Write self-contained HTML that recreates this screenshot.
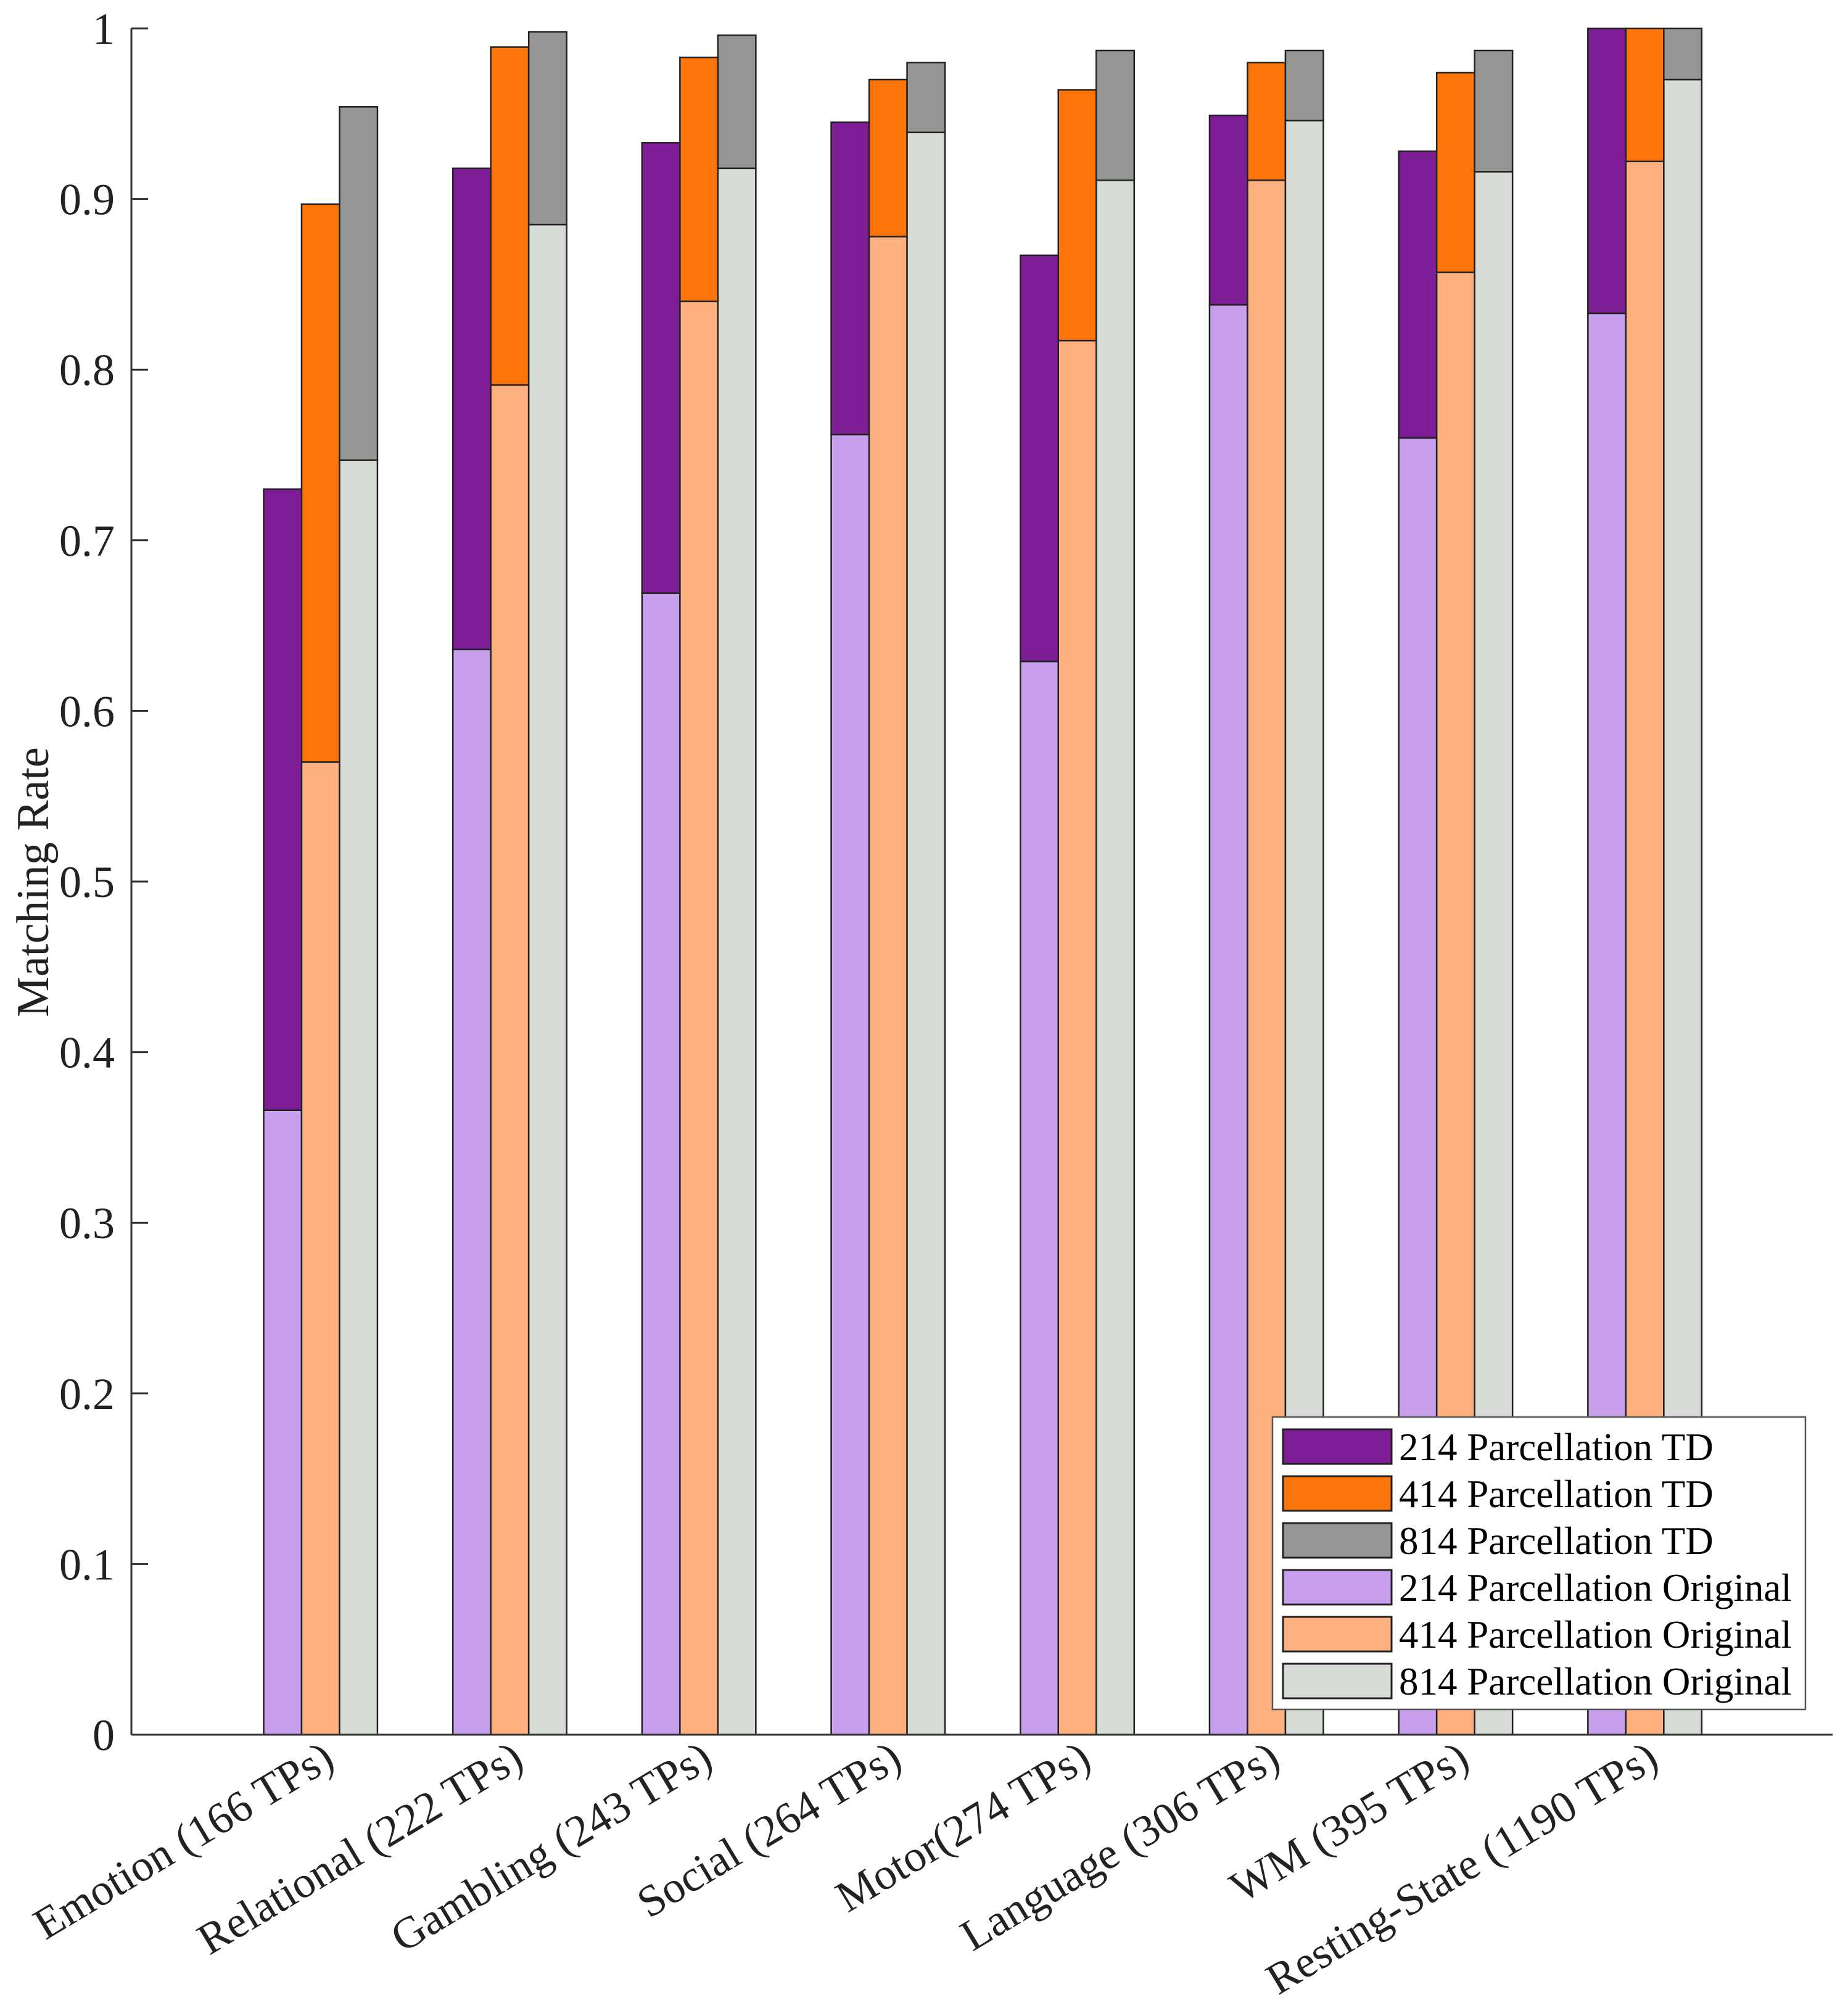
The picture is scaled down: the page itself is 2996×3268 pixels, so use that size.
<!DOCTYPE html>
<html><head><meta charset="utf-8"><style>
html,body{margin:0;padding:0;background:#fff;}
svg{display:block;font-family:"Liberation Serif",serif;}
</style></head><body>
<svg id="chart" width="2996" height="3268" viewBox="0 0 2996 3268" xmlns="http://www.w3.org/2000/svg">
<rect width="2996" height="3268" fill="#fff"/>
<g id="bars"></g>
<g id="axes"></g>
<g id="legend"></g>
</svg>
<script>
const categories = ["Emotion (166 TPs)","Relational (222 TPs)","Gambling (243 TPs)","Social (264 TPs)","Motor(274 TPs)","Language (306 TPs)","WM (395 TPs)","Resting-State (1190 TPs)"];
const orig214 = [0.366,0.636,0.669,0.762,0.629,0.838,0.760,0.833];
const orig414 = [0.570,0.791,0.840,0.878,0.817,0.911,0.857,0.922];
const orig814 = [0.747,0.885,0.918,0.939,0.911,0.946,0.916,0.970];
const td214 = [0.730,0.918,0.933,0.945,0.867,0.949,0.928,1.000];
const td414 = [0.897,0.989,0.983,0.970,0.964,0.980,0.974,1.000];
const td814 = [0.954,0.998,0.996,0.980,0.987,0.987,0.987,1.000];
const yTicks = [0,0.1,0.2,0.3,0.4,0.5,0.6,0.7,0.8,0.9,1];
const yTickLabels = ["0","0.1","0.2","0.3","0.4","0.5","0.6","0.7","0.8","0.9","1"];
const legendLabels = ["214 Parcellation TD","414 Parcellation TD","814 Parcellation TD","214 Parcellation Original","414 Parcellation Original","814 Parcellation Original"];

const NS="http://www.w3.org/2000/svg";
const X0=213, XR=2971, Y0=2812, YH=2766, STEP=306.7, BW=61.5;
const yS=v=>Y0-v*YH;
const xS=i=>X0+(i+1)*STEP;
function mk(tag,attrs,parent){const e=document.createElementNS(NS,tag);for(const k in attrs)e.setAttribute(k,attrs[k]);parent.appendChild(e);return e;}
const bars=document.getElementById('bars'),axes=document.getElementById('axes'),legend=document.getElementById('legend');
const series=[
 {o:orig214,t:td214,co:"#c89fec",ct:"#7f1d97",n:"214"},
 {o:orig414,t:td414,co:"#ffb07f",ct:"#fd7408",n:"414"},
 {o:orig814,t:td814,co:"#d8dcd6",ct:"#959694",n:"814"}];
series.forEach((s,si)=>{
 categories.forEach((c,i)=>{
  const x=xS(i)+(si-1)*BW-BW/2;
  const r1=mk('rect',{x:x,y:yS(s.o[i]),width:BW,height:yS(0)-yS(s.o[i]),fill:s.co,stroke:"#222",'stroke-width':2.5},bars);
  
  
  const r2=mk('rect',{x:x,y:yS(s.t[i]),width:BW,height:yS(s.o[i])-yS(s.t[i]),fill:s.ct,stroke:"#222",'stroke-width':2.5},bars);
  
  
 });
});
const ya=mk('line',{x1:X0,y1:yS(1),x2:X0,y2:Y0,stroke:"#333",'stroke-width':3},axes);


const xa=mk('line',{x1:X0,y1:Y0,x2:XR,y2:Y0,stroke:"#333",'stroke-width':3},axes);


yTicks.forEach((v,i)=>{
 const t=mk('line',{x1:X0,y1:yS(v),x2:X0+27,y2:yS(v),stroke:"#333",'stroke-width':3},axes);
 
 
 const l=mk('text',{x:186,y:yS(v)+25,'text-anchor':'end','font-size':72,fill:'#222'},axes);
 l.textContent=yTickLabels[i];
 
 
});
categories.forEach((c,i)=>{
 const x=xS(i)+26, y=Y0+50;
 const l=mk('text',{x:x,y:y,'text-anchor':'end','font-size':72,fill:'#222',transform:`rotate(-31 ${x} ${y})`},axes);
 l.textContent=c;
 
 
});
const yl=mk('text',{x:78,y:1430,'text-anchor':'middle','font-size':74,fill:'#222',transform:'rotate(-90 78 1430)'},axes);
yl.textContent="Matching Rate";


const lb=mk('rect',{x:2063,y:2297,width:864,height:474,fill:'#fff',stroke:'#555','stroke-width':2.5},legend);


const lcols=["#7f1d97","#fd7408","#959694","#c89fec","#ffb07f","#d8dcd6"];
legendLabels.forEach((t,i)=>{
 const cy=2345+i*76;
 const sw=mk('rect',{x:2080,y:cy-28,width:176,height:56,fill:lcols[i],stroke:'#222','stroke-width':3},legend);
 
 
 const tx=mk('text',{x:2268,y:cy+22,'font-size':63,fill:'#000'},legend);
 tx.textContent=t;
 
 
});
</script>
</body></html>
